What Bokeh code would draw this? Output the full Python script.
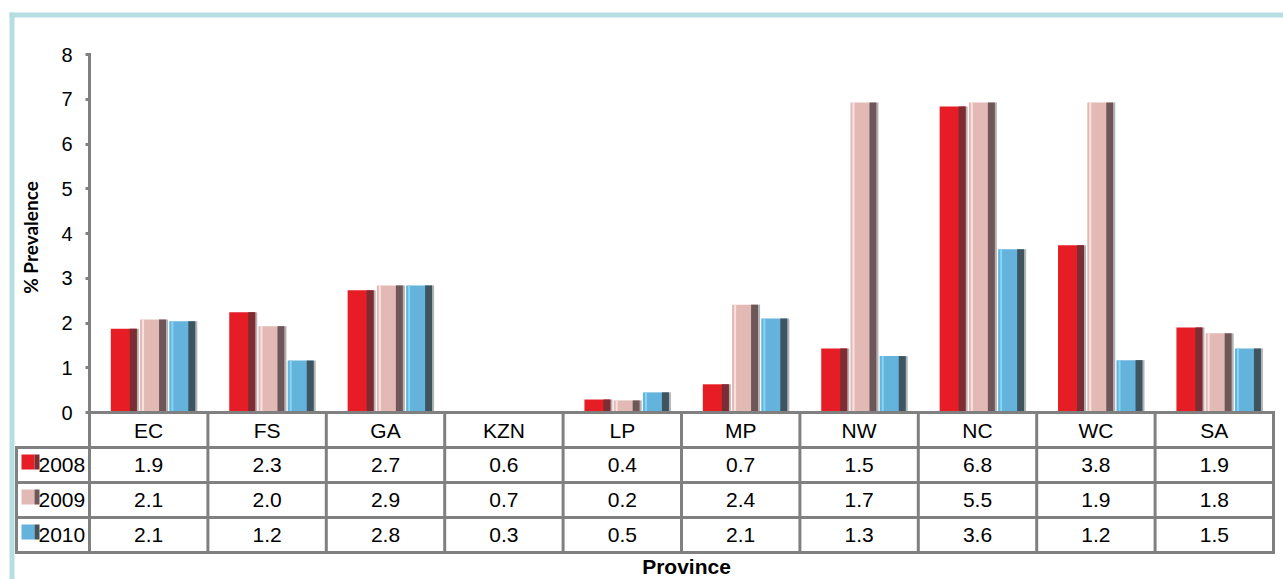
import math
from bokeh.plotting import figure
from bokeh.models import Range1d, FixedTicker, ColumnDataSource
from bokeh.embed import file_html
from bokeh.resources import INLINE
from bokeh.core.properties import value

# ---------------- data ----------------
categories = ["EC", "FS", "GA", "KZN", "LP", "MP", "NW", "NC", "WC", "SA"]
years = ["2008", "2009", "2010"]

# bar heights as drawn in the picture
bars_2008 = [1.87, 2.24, 2.73, 0.0, 0.29, 0.63, 1.43, 6.84, 3.74, 1.90]
bars_2009 = [2.08, 1.93, 2.84, 0.0, 0.27, 2.41, 6.93, 6.93, 6.93, 1.77]
bars_2010 = [2.04, 1.16, 2.84, 0.0, 0.45, 2.10, 1.26, 3.65, 1.17, 1.43]

# values printed in the data table
table_2008 = [1.9, 2.3, 2.7, 0.6, 0.4, 0.7, 1.5, 6.8, 3.8, 1.9]
table_2009 = [2.1, 2.0, 2.9, 0.7, 0.2, 2.4, 1.7, 5.5, 1.9, 1.8]
table_2010 = [2.1, 1.2, 2.8, 0.3, 0.5, 2.1, 1.3, 3.6, 1.2, 1.5]

y_ticks = [0, 1, 2, 3, 4, 5, 6, 7, 8]
y_title = "% Prevalence"
x_title = "Province"

# ---------------- styling ----------------
main_colors = ["#e61d25", "#e2b9b5", "#63b3dd"]
dark_colors = ["#7a2d33", "#6d5758", "#3f545e"]
light_colors = [None, "#fbe2e0", "#86d5f5"]
GRID = "#808080"
TEAL = "#b6dde1"

W, H = 1283, 579
OFF = 0                     # page offset of the canvas
X0_PX, UX = 89.0, 118.4     # screen x of category origin, px per category
Y0_PX, UY = 412.0, 44.75    # screen y of value 0, px per unit


def xd(px):
    return (px - X0_PX) / UX


def yd(py):
    return (Y0_PX - py) / UY


p = figure(width=W, height=H, output_backend="svg", toolbar_location=None,
           x_range=Range1d(xd(OFF), xd(OFF + W)), y_range=Range1d(yd(OFF + H), yd(OFF)),
           min_border=0, min_border_left=0, min_border_right=0,
           min_border_top=0, min_border_bottom=0)
p.xaxis.visible = False
p.xgrid.visible = False
p.ygrid.visible = False
p.outline_line_color = None
p.background_fill_color = "white"
p.border_fill_color = "white"

yax = p.yaxis[0]
yax.fixed_location = 0
yax.ticker = FixedTicker(ticks=y_ticks)
yax.axis_line_color = None
yax.major_tick_out = 4
yax.major_tick_in = 0
yax.major_tick_line_width = 3
yax.major_tick_line_color = GRID
yax.minor_tick_line_color = None
yax.major_label_text_font = "Liberation Sans"
yax.major_label_text_font_size = "20px"
yax.major_label_text_color = "#000000"
yax.major_label_standoff = 13

n = len(categories)
ROW = 35.0 / UY
bar_w = 26.0 / UX
dark_w = 7.0 / UX
shadow_w = 2.0 / UX
hl_w = 2.0 / UX
offsets = [0.29, 0.537, 0.784]

# ---------------- bars ----------------
for j, vals in enumerate([bars_2008, bars_2009, bars_2010]):
    cx = [i + offsets[j] for i in range(n)]
    src = ColumnDataSource(dict(
        x=cx, top=vals,
        xs=[c + bar_w / 2 + shadow_w / 2 for c in cx],
        xd=[c + bar_w / 2 - dark_w / 2 for c in cx],
        xh=[c - bar_w / 2 + 3.0 / UX for c in cx],
    ))
    p.vbar(x="xs", top="top", bottom=0, width=shadow_w, source=src,
           fill_color="#b3b3b3", line_color=None)
    p.vbar(x="x", top="top", bottom=0, width=bar_w, source=src,
           fill_color=main_colors[j], line_color=None)
    p.vbar(x="xd", top="top", bottom=0, width=dark_w, source=src,
           fill_color=dark_colors[j], line_color=None)
    if light_colors[j]:
        p.vbar(x="xh", top="top", bottom=0, width=hl_w, source=src,
               fill_color=light_colors[j], line_color=None)

# ---------------- table grid ----------------
left_col = xd(16)
nrows = 1 + len(years)
x0s, y0s, x1s, y1s = [], [], [], []
# horizontal lines
x0s.append(0); x1s.append(n); y0s.append(0); y1s.append(0)
for k in range(1, nrows + 1):
    x0s.append(left_col); x1s.append(n); y0s.append(-k * ROW); y1s.append(-k * ROW)
# vertical lines
for i in range(n + 1):
    top = max(y_ticks) if i == 0 else 0
    x0s.append(i); x1s.append(i); y0s.append(top); y1s.append(-nrows * ROW)
x0s.append(left_col); x1s.append(left_col); y0s.append(-ROW); y1s.append(-nrows * ROW)
p.segment(x0=x0s, y0=y0s, x1=x1s, y1=y1s, line_color=GRID, line_width=3,
          line_cap="square")

# header texts
p.text(x=[i + 0.5 for i in range(n)], y=[-ROW / 2] * n, text=categories,
       text_font=value("Liberation Sans"), text_font_size="21px",
       text_align="center", text_baseline="middle", text_color="#000000")

# value rows
for j, (yr, tvals) in enumerate(zip(years, [table_2008, table_2009, table_2010])):
    yc = -(j + 1.5) * ROW
    p.text(x=[i + 0.5 for i in range(n)], y=[yc] * n,
           text=["%.1f" % v for v in tvals],
           text_font=value("Liberation Sans"), text_font_size="21px",
           text_align="center", text_baseline="middle", text_color="#000000")
    # legend key
    p.rect(x=[xd(27.5)], y=[yc + 3.0 / UY], width=13, height=15,
           width_units="screen", height_units="screen",
           fill_color=main_colors[j], line_color=None)
    p.rect(x=[xd(36.5)], y=[yc + 3.0 / UY], width=5, height=15,
           width_units="screen", height_units="screen",
           fill_color=dark_colors[j], line_color=None)
    p.text(x=[xd(38)], y=[yc], text=[yr],
           text_font=value("Liberation Sans"), text_font_size="21px",
           text_align="left", text_baseline="middle", text_color="#000000")

# ---------------- titles ----------------
p.text(x=[xd(30)], y=[yd(237)], text=[y_title], angle=math.pi / 2,
       text_font=value("Lato"), text_font_style="bold", text_font_size="19px",
       text_align="center", text_baseline="middle", text_color="#000000")
p.text(x=[xd(686)], y=[yd(566)], text=[x_title],
       text_font=value("Liberation Sans"), text_font_style="bold",
       text_font_size="21px", text_align="center", text_baseline="middle",
       text_color="#000000")

# ---------------- teal frame ----------------
p.segment(x0=[xd(9), xd(11.5)], y0=[yd(14.5), yd(12)],
          x1=[xd(OFF + W), xd(11.5)], y1=[yd(14.5), yd(OFF + H)],
          line_color=TEAL, line_width=5)

open("out.html", "w").write(file_html(p, INLINE))
